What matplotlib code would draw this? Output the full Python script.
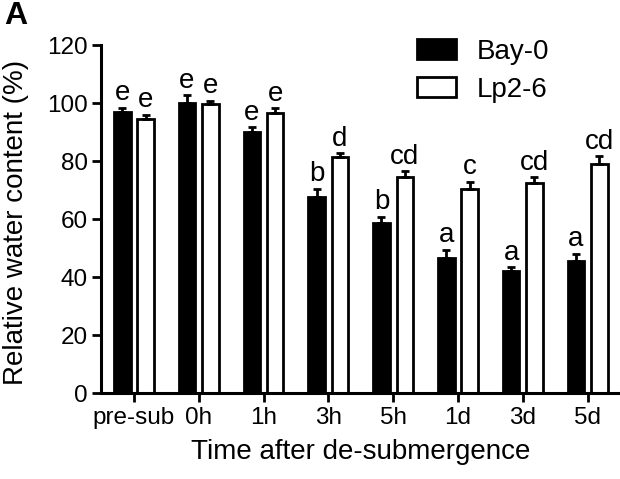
"""
Relative water content after de-submergence, Bay-0 vs Lp2-6.

Writes out.png (620x479).
"""

import numpy as np
import matplotlib
matplotlib.use("Agg")
import matplotlib.pyplot as plt

# ---------------------------------------------------------------------------
# Data
# ---------------------------------------------------------------------------

time_points = ["pre-sub", "0h", "1h", "3h", "5h", "1d", "3d", "5d"]

bay_mean = [97.0, 100.0, 90.0, 67.5, 58.5, 46.5, 42.0, 45.5]
bay_sem = [1.3, 2.7, 1.7, 2.9, 2.3, 2.9, 1.4, 2.5]
bay_letters = ["e", "e", "e", "b", "b", "a", "a", "a"]

lp_mean = [94.5, 99.5, 96.5, 81.5, 74.5, 70.5, 72.5, 79.0]
lp_sem = [1.5, 1.2, 1.7, 1.1, 2.0, 2.3, 1.9, 2.6]
lp_letters = ["e", "e", "e", "d", "cd", "c", "cd", "cd"]

yticks = [0, 20, 40, 60, 80, 100, 120]

# ---------------------------------------------------------------------------
# Figure
# ---------------------------------------------------------------------------

plt.rcParams.update({
    "font.family": ["Liberation Sans", "DejaVu Sans"],
    "axes.linewidth": 2.2,
})

W, H = 620, 479
fig = plt.figure(figsize=(W / 100, H / 100), dpi=100, facecolor="white")
ax = fig.add_axes([101.5 / W, 86 / H, (W - 101.5) / W, 348 / H])

x = np.arange(len(time_points))
offset = 0.18
width = 0.255
lw = 2.0

series = [
    (x - offset, bay_mean, bay_sem, bay_letters, "black", "Bay-0"),
    (x + offset, lp_mean, lp_sem, lp_letters, "white", "Lp2-6"),
]

for xs, mean, sem, letters, fc, label in series:
    ax.bar(xs, mean, width, color=fc, edgecolor="black", linewidth=lw,
           label=label, zorder=2)
    ax.errorbar(xs, mean, yerr=[np.zeros(len(sem)), sem], fmt="none",
                ecolor="black", elinewidth=2.0, capsize=3.2, capthick=2.0,
                zorder=3)
    for xi, m, s, t in zip(xs, mean, sem, letters):
        ax.text(xi, m + s + 2.6, t, ha="center", va="baseline", fontsize=20)

ax.set_xlim(-0.5, len(time_points) - 0.5)
ax.set_ylim(0, 120)
ax.set_yticks(yticks)
ax.set_xticks(x)
ax.set_xticklabels(time_points)

for side in ["top", "right"]:
    ax.spines[side].set_visible(False)

ax.tick_params(axis="both", direction="out", length=6.5, width=2.0,
               labelsize=17.5, pad=3.5)

ax.set_xlabel("Time after de-submergence", fontsize=20, labelpad=7)
ax.set_ylabel("Relative water content (%)", fontsize=20)
ax.yaxis.set_label_coords(-0.14, 0.49)

ax.legend(loc="upper left", bbox_to_anchor=(417 / W, (H - 39) / H),
          bbox_transform=fig.transFigure, frameon=False, fontsize=20,
          handlelength=1.4, handleheight=0.72, handletextpad=0.75,
          labelspacing=0.42, borderpad=0, borderaxespad=0)

fig.text(4 / W, 1 - 1 / H, "A", fontsize=23, fontweight="bold",
         ha="left", va="top")

fig.savefig("out.png", dpi=100, facecolor="white")
plt.close(fig)
